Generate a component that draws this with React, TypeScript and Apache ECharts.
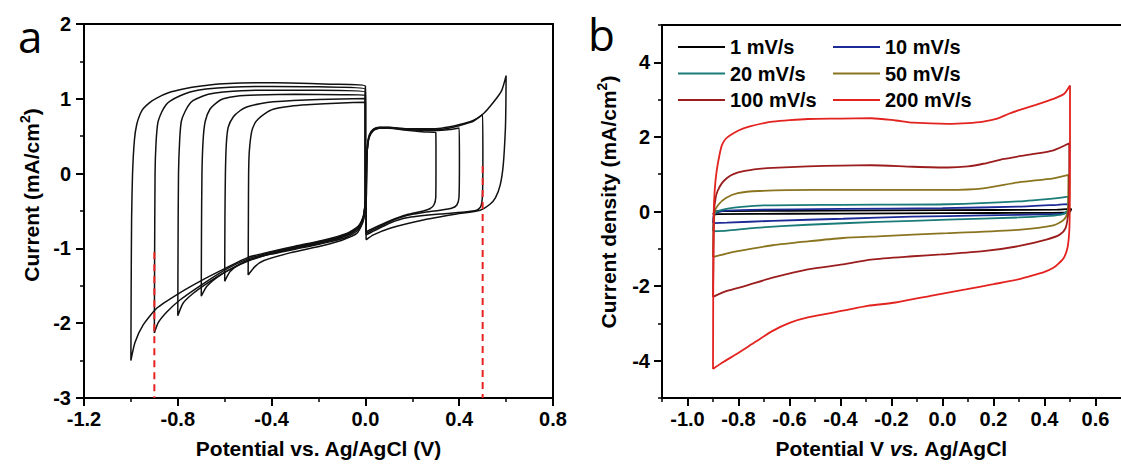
import React, { useEffect, useRef } from "react";
import * as echarts from "echarts";

// ---------- Panel a: CV loops (Potential V, Current mA/cm2) ----------
const loopNeg100: number[][] = [
  [-1.0, -2.5], [-0.999, -1.6], [-0.997, -0.6], [-0.993, 0.0], [-0.985, 0.45], [-0.975, 0.66], [-0.96, 0.8],
  [-0.947, 0.87], [-0.92, 0.95], [-0.89, 1.01], [-0.84, 1.08], [-0.777, 1.13], [-0.7, 1.17], [-0.606, 1.2],
  [-0.45, 1.215], [-0.322, 1.21], [-0.15, 1.195], [0, 1.17],
  [0, -0.3], [-0.003, -0.45], [-0.01, -0.58], [-0.03, -0.7], [-0.08, -0.8], [-0.18, -0.89], [-0.3, -0.97],
  [-0.4, -1.04], [-0.5, -1.12], [-0.6, -1.27], [-0.7, -1.43], [-0.8, -1.61], [-0.89, -1.8], [-0.947, -2.02],
  [-0.983, -2.26], [-1.0, -2.5],
];
const loopNeg90: number[][] = [
  [-0.9, -2.13], [-0.899, -1.2], [-0.897, 0.0], [-0.893, 0.4], [-0.885, 0.68], [-0.869, 0.82], [-0.85, 0.92],
  [-0.833, 0.97], [-0.79, 1.04], [-0.748, 1.09], [-0.68, 1.13], [-0.577, 1.155], [-0.4, 1.165], [-0.2, 1.16], [0, 1.13],
  [0, -0.31], [-0.003, -0.46], [-0.01, -0.59], [-0.03, -0.71], [-0.08, -0.81], [-0.18, -0.9], [-0.3, -0.98],
  [-0.4, -1.05], [-0.5, -1.14], [-0.6, -1.29], [-0.705, -1.5], [-0.791, -1.69], [-0.847, -1.85], [-0.883, -1.99], [-0.9, -2.13],
];
const loopNeg80: number[][] = [
  [-0.8, -1.9], [-0.799, -1.0], [-0.797, 0.0], [-0.792, 0.45], [-0.785, 0.7], [-0.769, 0.83], [-0.745, 0.95],
  [-0.72, 1.0], [-0.67, 1.06], [-0.606, 1.09], [-0.45, 1.115], [-0.2, 1.115], [0, 1.09],
  [0, -0.32], [-0.003, -0.47], [-0.01, -0.6], [-0.03, -0.72], [-0.08, -0.82], [-0.18, -0.91], [-0.3, -0.99],
  [-0.4, -1.06], [-0.5, -1.16], [-0.606, -1.33], [-0.677, -1.47], [-0.734, -1.6], [-0.777, -1.73], [-0.8, -1.9],
];
const loopNeg70: number[][] = [
  [-0.7, -1.64], [-0.699, -0.8], [-0.697, 0.0], [-0.692, 0.45], [-0.683, 0.7], [-0.663, 0.86], [-0.63, 0.96],
  [-0.606, 1.0], [-0.55, 1.035], [-0.464, 1.05], [-0.3, 1.06], [-0.1, 1.055], [0, 1.05],
  [0, -0.33], [-0.003, -0.48], [-0.01, -0.61], [-0.03, -0.73], [-0.08, -0.83], [-0.18, -0.92], [-0.3, -1.0],
  [-0.4, -1.07], [-0.5, -1.17], [-0.577, -1.28], [-0.634, -1.39], [-0.677, -1.51], [-0.7, -1.64],
];
const loopNeg60: number[][] = [
  [-0.6, -1.44], [-0.599, -0.6], [-0.597, 0.0], [-0.593, 0.4], [-0.585, 0.62], [-0.563, 0.76], [-0.535, 0.84],
  [-0.506, 0.89], [-0.45, 0.935], [-0.393, 0.96], [-0.2, 0.99], [0, 1.005],
  [0, -0.34], [-0.003, -0.5], [-0.01, -0.63], [-0.03, -0.75], [-0.08, -0.85], [-0.18, -0.93], [-0.3, -1.01],
  [-0.407, -1.08], [-0.492, -1.15], [-0.535, -1.21], [-0.577, -1.31], [-0.6, -1.44],
];
const loopNeg50: number[][] = [
  [-0.5, -1.355], [-0.499, -0.6], [-0.498, 0.0], [-0.495, 0.3], [-0.485, 0.56], [-0.472, 0.67], [-0.457, 0.73],
  [-0.43, 0.8], [-0.393, 0.86], [-0.32, 0.9], [-0.25, 0.92], [-0.1, 0.945], [0, 0.955],
  [0, -0.36], [-0.004, -0.55], [-0.012, -0.66], [-0.037, -0.8], [-0.1, -0.89], [-0.18, -0.96], [-0.322, -1.06],
  [-0.435, -1.166], [-0.47, -1.24], [-0.5, -1.355],
];
const loopPos30: number[][] = [
  [0.003, -0.78], [0.004, -0.2], [0.006, 0.2], [0.01, 0.38], [0.017, 0.49], [0.034, 0.575], [0.06, 0.605],
  [0.1, 0.605], [0.176, 0.58], [0.25, 0.557], [0.3, 0.55],
  [0.301, 0.2], [0.3, -0.32], [0.292, -0.42], [0.275, -0.47], [0.247, -0.5], [0.176, -0.55], [0.105, -0.63],
  [0.034, -0.73], [0.003, -0.78],
];
const loopPos40: number[][] = [
  [0.003, -0.8], [0.004, -0.2], [0.006, 0.2], [0.01, 0.39], [0.017, 0.5], [0.034, 0.58], [0.06, 0.61],
  [0.1, 0.61], [0.176, 0.585], [0.3, 0.575], [0.36, 0.59], [0.4, 0.61],
  [0.401, 0.2], [0.399, -0.32], [0.39, -0.42], [0.37, -0.46], [0.318, -0.49], [0.247, -0.52], [0.176, -0.56],
  [0.105, -0.64], [0.034, -0.75], [0.003, -0.8],
];
const loopPos50: number[][] = [
  [0.003, -0.82], [0.004, -0.2], [0.006, 0.2], [0.01, 0.4], [0.017, 0.51], [0.034, 0.59], [0.06, 0.615],
  [0.1, 0.615], [0.176, 0.59], [0.3, 0.585], [0.36, 0.61], [0.42, 0.66], [0.46, 0.7], [0.5, 0.79],
  [0.501, 0.2], [0.499, -0.3], [0.492, -0.44], [0.475, -0.49], [0.432, -0.51], [0.318, -0.54], [0.176, -0.59],
  [0.105, -0.66], [0.034, -0.77], [0.003, -0.82],
];
const loopPos60: number[][] = [
  [0.003, -0.885], [0.004, -0.2], [0.006, 0.2], [0.01, 0.41], [0.017, 0.52], [0.034, 0.595], [0.06, 0.62],
  [0.1, 0.62], [0.176, 0.6], [0.3, 0.6], [0.36, 0.625], [0.42, 0.67], [0.46, 0.71], [0.503, 0.8], [0.545, 0.95],
  [0.581, 1.11], [0.6, 1.31],
  [0.599, 0.9], [0.597, 0.6], [0.588, 0.12], [0.575, -0.15], [0.555, -0.32], [0.531, -0.41], [0.489, -0.49],
  [0.389, -0.54], [0.247, -0.62], [0.105, -0.73], [0.034, -0.82], [0.003, -0.885],
];
const dashLeft: number[][] = [[-0.9, -1.05], [-0.9, -3]];
const dashRight: number[][] = [[0.5, 0.1], [0.5, -3]];

// ---------- Panel b: CV at different scan rates ----------
const scanNames = ["1 mV/s", "10 mV/s", "20 mV/s", "50 mV/s", "100 mV/s", "200 mV/s"];
const scanColors = ["#000000", "#1c2a96", "#1a7b78", "#8a7420", "#9b1d1d", "#e2231f"];
const cv1: number[][] = [
  [-0.9, -0.08], [-0.895, -0.02], [-0.88, 0.01], [-0.6, 0.02], [-0.2, 0.03], [0.2, 0.04], [0.45, 0.05], [0.505, 0.07],
  [0.5, 0.0], [0.48, -0.03], [0.2, -0.04], [-0.2, -0.05], [-0.6, -0.06], [-0.88, -0.07], [-0.9, -0.08],
];
const cv10: number[][] = [
  [-0.9, -0.31], [-0.897, -0.1], [-0.888, -0.04], [-0.858, 0.02], [-0.75, 0.045], [-0.4, 0.07], [0.0, 0.09],
  [0.3, 0.13], [0.45, 0.18], [0.497, 0.2],
  [0.496, 0.02], [0.48, -0.05], [0.44, -0.07], [0.16, -0.106], [-0.12, -0.14], [-0.39, -0.195], [-0.666, -0.25],
  [-0.845, -0.3], [-0.9, -0.31],
];
const cv20: number[][] = [
  [-0.9, -0.53], [-0.897, -0.2], [-0.892, -0.04], [-0.865, 0.044], [-0.817, 0.106], [-0.72, 0.16], [-0.4, 0.18],
  [0.02, 0.195], [0.297, 0.27], [0.45, 0.36], [0.494, 0.4],
  [0.493, 0.1], [0.488, 0.0], [0.462, -0.09], [0.297, -0.16], [0.02, -0.22], [-0.253, -0.28], [-0.528, -0.355],
  [-0.735, -0.44], [-0.845, -0.51], [-0.9, -0.53],
];
const cv50: number[][] = [
  [-0.9, -1.22], [-0.898, -0.5], [-0.893, 0.0], [-0.879, 0.18], [-0.851, 0.355], [-0.803, 0.49], [-0.72, 0.55],
  [-0.5, 0.58], [-0.25, 0.58], [0.02, 0.58], [0.16, 0.62], [0.297, 0.78], [0.435, 0.89], [0.494, 0.98],
  [0.493, 0.3], [0.491, 0.0], [0.476, -0.22], [0.435, -0.37], [0.297, -0.49], [0.02, -0.58], [-0.253, -0.665],
  [-0.39, -0.71], [-0.528, -0.8], [-0.666, -0.905], [-0.803, -1.065], [-0.872, -1.17], [-0.9, -1.22],
];
const cv100: number[][] = [
  [-0.9, -2.29], [-0.898, -1.0], [-0.896, 0.0], [-0.89, 0.35], [-0.882, 0.55], [-0.865, 0.76], [-0.845, 0.9],
  [-0.82, 1.0], [-0.78, 1.08], [-0.72, 1.14], [-0.666, 1.17], [-0.528, 1.21], [-0.4, 1.23], [-0.28, 1.24],
  [-0.115, 1.2], [0.022, 1.18], [0.1, 1.21], [0.16, 1.28], [0.242, 1.41], [0.366, 1.55], [0.435, 1.64], [0.497, 1.83],
  [0.497, 0.5], [0.494, 0.0], [0.483, -0.44], [0.46, -0.62], [0.407, -0.754], [0.297, -0.93], [0.16, -1.065],
  [-0.005, -1.15], [-0.116, -1.2], [-0.28, -1.29], [-0.39, -1.42], [-0.528, -1.55], [-0.666, -1.775],
  [-0.776, -2.0], [-0.845, -2.13], [-0.9, -2.29],
];
const cv200: number[][] = [
  [-0.9, -4.22], [-0.899, -2.0], [-0.897, 0.0], [-0.893, 0.6], [-0.886, 1.07], [-0.875, 1.5], [-0.865, 1.78],
  [-0.85, 1.95], [-0.831, 2.05], [-0.8, 2.17], [-0.762, 2.27], [-0.7, 2.37], [-0.666, 2.41], [-0.6, 2.45],
  [-0.528, 2.48], [-0.4, 2.49], [-0.28, 2.5], [-0.184, 2.44], [-0.115, 2.38], [0.022, 2.35], [0.1, 2.37],
  [0.16, 2.41], [0.215, 2.49], [0.26, 2.62], [0.297, 2.71], [0.366, 2.86], [0.435, 3.02], [0.476, 3.15], [0.5, 3.38],
  [0.5, 1.5], [0.499, 0.0], [0.497, -0.55], [0.49, -0.98], [0.476, -1.24], [0.455, -1.4], [0.435, -1.51],
  [0.4, -1.62], [0.366, -1.69], [0.297, -1.82], [0.2, -1.95], [0.091, -2.09], [-0.047, -2.26], [-0.184, -2.44],
  [-0.294, -2.53], [-0.39, -2.66], [-0.528, -2.84], [-0.597, -2.98], [-0.666, -3.2], [-0.735, -3.5],
  [-0.803, -3.8], [-0.858, -4.03], [-0.9, -4.22],
];

// tick values
const bXLabels = [-1.0, -0.8, -0.6, -0.4, -0.2, 0.0, 0.2, 0.4, 0.6];
const bXMinor = [-1.1, -0.9, -0.7, -0.5, -0.3, -0.1, 0.1, 0.3, 0.5];
const bYLabels = [-4, -2, 0, 2, 4];
const bYMinor = [-5, -3, -1, 1, 3, 5];

const FONT = "'Liberation Sans', Arial, Helvetica, sans-serif";

export default function App() {
  const ref = useRef<HTMLDivElement>(null);

  useEffect(() => {
    if (!ref.current) return;
    const chart = echarts.init(ref.current, null, { renderer: "svg" });

    const axisLine = { show: true, onZero: false, lineStyle: { color: "#000", width: 2 } };
    const tickStyle = { color: "#000", width: 2 };
    const labelStyle = { color: "#000", fontSize: 20, fontWeight: "bold" as const, fontFamily: FONT };
    const titleStyle = { color: "#000", fontSize: 21, fontWeight: "bold" as const, fontFamily: FONT };
    const hidden = { axisTick: { show: false }, axisLabel: { show: false }, splitLine: { show: false } };

    const negLoops = [loopNeg100, loopNeg90, loopNeg80, loopNeg70, loopNeg60, loopNeg50];
    const posLoops = [loopPos30, loopPos40, loopPos50, loopPos60];
    const aSeries: any[] = [...negLoops, ...posLoops].map((d) => ({
      type: "line",
      xAxisIndex: 0,
      yAxisIndex: 0,
      data: d,
      symbol: "none",
      smooth: 0.2,
      lineStyle: { color: "#111", width: 1.5 },
      silent: true,
    }));
    [dashLeft, dashRight].forEach((d) =>
      aSeries.push({
        type: "line",
        xAxisIndex: 0,
        yAxisIndex: 0,
        data: d,
        symbol: "none",
        lineStyle: { color: "#e8231f", width: 2, type: [7, 5] },
        silent: true,
      })
    );
    const bData = [cv1, cv10, cv20, cv50, cv100, cv200];
    const bSeries = bData.map((d, i) => ({
      type: "line",
      name: scanNames[i],
      xAxisIndex: 2,
      yAxisIndex: 2,
      data: d,
      symbol: "none",
      smooth: 0.25,
      lineStyle: { color: scanColors[i], width: 1.8 },
      itemStyle: { color: scanColors[i] },
      silent: true,
    }));

    const legendCommon = {
      orient: "vertical" as const,
      icon: "rect",
      itemWidth: 47,
      itemHeight: 2,
      itemGap: 6.5,
      textStyle: { ...labelStyle, fontSize: 20 },
      selectedMode: false,
      padding: 0,
    };

    chart.setOption({
      animation: false,
      grid: [
        { left: 84, top: 24, width: 469, height: 379 },
        { left: 662, top: 25, width: 467, height: 379 },
      ],
      xAxis: [
        {
          gridIndex: 0, type: "value", min: -1.2, max: 0.8, interval: 0.4, position: "bottom",
          axisLine, axisTick: { show: true, length: 8, lineStyle: tickStyle },
          minorTick: { show: true, splitNumber: 2, length: 4, lineStyle: { color: "#000", width: 1.5 } },
          splitLine: { show: false }, minorSplitLine: { show: false },
          axisLabel: { ...labelStyle, margin: 11, formatter: (v: number) => v.toFixed(1) },
          name: "Potential vs. Ag/AgCl (V)", nameLocation: "middle", nameGap: 40, nameTextStyle: titleStyle,
        },
        { gridIndex: 0, type: "value", min: -1.2, max: 0.8, position: "top", axisLine, ...hidden },
        {
          gridIndex: 1, type: "value", min: -1.1, max: 0.7, position: "bottom",
          axisLine,
          axisTick: { show: true, length: 8, lineStyle: tickStyle, customValues: bXLabels },
          splitLine: { show: false },
          axisLabel: { ...labelStyle, margin: 11, customValues: bXLabels, formatter: (v: number) => v.toFixed(1) },
          name: "{n|Potential V }{i|vs.}{n| Ag/AgCl}", nameLocation: "middle", nameGap: 40,
          nameTextStyle: {
            ...titleStyle,
            rich: { n: { ...titleStyle }, i: { ...titleStyle, fontStyle: "italic" } },
          },
        },
        {
          gridIndex: 1, type: "value", min: -1.1, max: 0.7, position: "bottom",
          axisLine: { show: false, onZero: false },
          axisTick: { show: true, length: 4, lineStyle: { color: "#000", width: 1.5 }, customValues: bXMinor },
          axisLabel: { show: false }, splitLine: { show: false },
        },
        { gridIndex: 1, type: "value", min: -1.1, max: 0.7, position: "top", axisLine, ...hidden },
      ],
      yAxis: [
        {
          gridIndex: 0, type: "value", min: -3, max: 2, interval: 1, position: "left",
          axisLine, axisTick: { show: true, length: 8, lineStyle: tickStyle },
          minorTick: { show: true, splitNumber: 2, length: 4, lineStyle: { color: "#000", width: 1.5 } },
          splitLine: { show: false }, minorSplitLine: { show: false },
          axisLabel: { ...labelStyle, margin: 13 },
        },
        { gridIndex: 0, type: "value", min: -3, max: 2, position: "right", axisLine, ...hidden },
        {
          gridIndex: 1, type: "value", min: -5, max: 5, position: "left",
          axisLine,
          axisTick: { show: true, length: 8, lineStyle: tickStyle, customValues: bYLabels },
          splitLine: { show: false },
          axisLabel: { ...labelStyle, margin: 12, customValues: bYLabels },
        },
        {
          gridIndex: 1, type: "value", min: -5, max: 5, position: "left",
          axisLine: { show: false, onZero: false },
          axisTick: { show: true, length: 4, lineStyle: { color: "#000", width: 1.5 }, customValues: bYMinor },
          axisLabel: { show: false }, splitLine: { show: false },
        },
      ],
      legend: [
        { ...legendCommon, left: 678, top: 37, data: [scanNames[0], scanNames[2], scanNames[4]] },
        { ...legendCommon, left: 833, top: 37, data: [scanNames[1], scanNames[3], scanNames[5]] },
      ],
      graphic: [
        {
          type: "text", left: 18, top: 14,
          style: { text: "a", fontSize: 44, fontFamily: "'Open Sans', 'Noto Sans', sans-serif", fill: "#000" },
        },
        {
          type: "text", left: 588, top: 12,
          style: { text: "b", fontSize: 44, fontFamily: "'Open Sans', 'Noto Sans', sans-serif", fill: "#000" },
        },
        {
          type: "text", x: 31, y: 195, rotation: Math.PI / 2,
          style: {
            text: "{t|Current (mA/cm}{s|2}{t|)}",
            align: "center", verticalAlign: "middle",
            rich: {
              t: { ...titleStyle, lineHeight: 26 },
              s: { ...titleStyle, fontSize: 14, verticalAlign: "top", lineHeight: 26 },
            },
          },
        },
        {
          type: "text", x: 608, y: 202, rotation: Math.PI / 2,
          style: {
            text: "{t|Current density (mA/cm}{s|2}{t|)}",
            align: "center", verticalAlign: "middle",
            rich: {
              t: { ...titleStyle, lineHeight: 26 },
              s: { ...titleStyle, fontSize: 14, verticalAlign: "top", lineHeight: 26 },
            },
          },
        },
      ],
      series: [...aSeries, ...bSeries],
    });

    return () => chart.dispose();
  }, []);

  return (
    <div
      ref={ref}
      style={{ position: "fixed", left: 0, top: 0, width: 1121, height: 464, background: "#fff" }}
    />
  );
}
